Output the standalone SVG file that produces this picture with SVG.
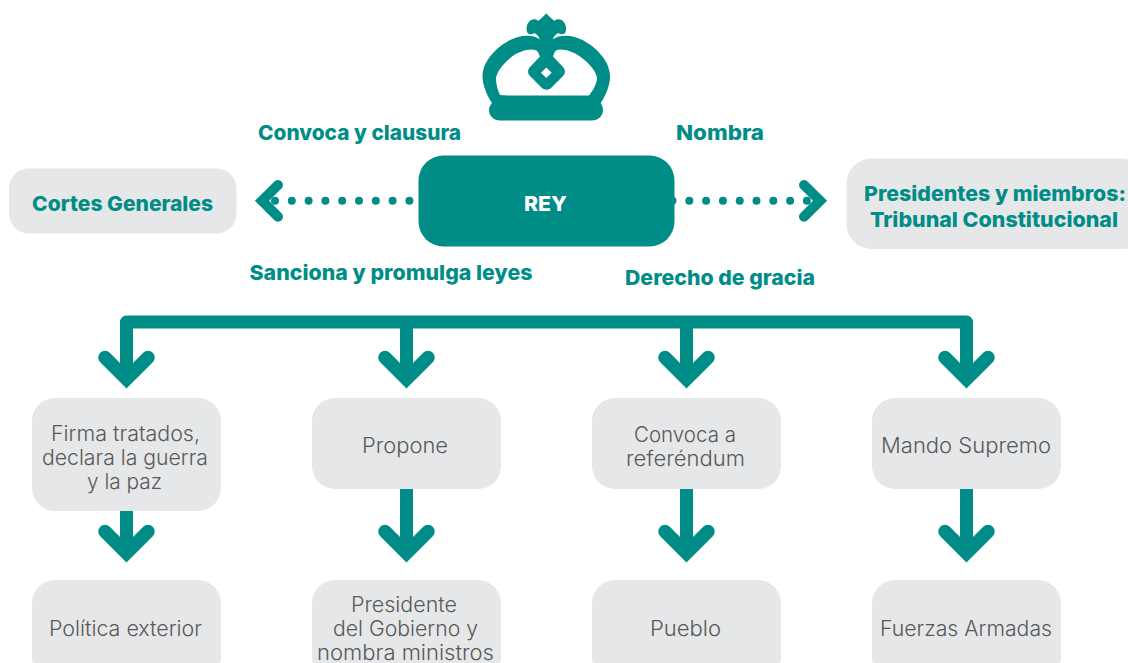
<svg xmlns="http://www.w3.org/2000/svg" width="1128" height="663" viewBox="0 0 1128 663">
<style>
.box{fill:#e6e7e8}
.t{font-family:"Inter","Open Sans","Liberation Sans",sans-serif;font-size:21px;font-weight:300;fill:#58595b;text-anchor:middle}
.b{font-family:"Inter","Open Sans","Liberation Sans",sans-serif;font-size:20.500px;font-weight:800;fill:#008d87;text-anchor:middle}
.line{fill:none;stroke:#008d87;stroke-width:13;stroke-linejoin:round}
.head{fill:none;stroke:#008d87;stroke-width:13.500;stroke-linecap:round;stroke-linejoin:miter}
.chev{fill:none;stroke:#008d87;stroke-width:10;stroke-linecap:round;stroke-linejoin:miter}
.dots{fill:none;stroke:#008d87;stroke-width:8;stroke-linecap:round;stroke-dasharray:0 16.800}
.teal{fill:#008d87}
</style>
<g id="crown"><path class="teal" fill-rule="evenodd" d="M492 103C487 96 482.500 85 482.500 76C483 60 497 47 510 40C518 36 531 33 540 39.500C538.500 36 536.500 34 534.500 33C532 34.500 529.500 35 527.500 33C525.500 29 526.500 23 531 20C534 18.500 536.500 19.500 538.500 20.700C541 18.500 544 16 546.300 13.300C548.600 16 551.600 18.500 554.100 20.700C556.100 19.500 558.600 18.500 561.600 20C566.100 23 567.100 29 565.100 33C563.100 35 560.600 34.500 558.100 33C556.100 34 554.100 36 552.600 39.500C561.600 33 574.600 36 582.600 40C595.600 47 609.600 60 610.100 76C610.100 85 605.600 96 600.600 103C602.100 105 603 107 603 110C603 116 598 120.500 592 120.500H500C494 120.500 489 116 489 110C489 107 490.500 105 492 103ZM500 95C504 95.500 509 95.500 514 95.500H589C594 89 597 83 597 78C596 71 589 63 580 56.500C572 51 562 48 556 50.500C554.500 52 553.500 54.500 553 56.500L563 67C565.500 70 565.500 73 563.500 75.500L552 87C549 90.500 544 90.500 541 87L529.500 75.500C527.500 73 527.500 70 530 67L540 56.500C539 54.500 538 52 536.500 50.500C530 48 520 51 512 56.500C504 63 497 71 496 78C496 84 497.500 90 500 95ZM546.300 67.400L541 72.700L546.300 78L551.600 72.700Z"/></g>
<g id="connectors">
<path class="dots" d="M275 200.700H410"/>
<path class="chev" d="M278 185L262 200.700L278 216.700"/>
<path class="dots" d="M672.500 200.700H807"/>
<path class="chev" d="M804 185L820 200.700L804 216.700"/>
<path class="line" d="M126.500 380V322H966.500V380M406.500 322V380M686.500 322V380"/>
<path class="head" d="M105 357.500L126.500 379L148 357.500M385 357.500L406.500 379L428 357.500M665 357.500L686.500 379L708 357.500M945 357.500L966.500 379L988 357.500"/>
<path class="line" d="M126.500 511V552M406.500 489V552M686.500 489V552M966.500 489V552"/>
<path class="head" d="M105 531.500L126.500 553L148 531.500M385 531.500L406.500 553L428 531.500M665 531.500L686.500 553L708 531.500M945 531.500L966.500 553L988 531.500"/>
</g>
<g id="rey"><rect x="418.500" y="155.500" width="256" height="91" rx="25" class="teal"/><text x="545.500" y="210.500" class="b" style="fill:#fff" textLength="43" lengthAdjust="spacingAndGlyphs">REY</text></g>
<g id="cortes"><rect x="9" y="168.500" width="227.500" height="65" rx="20" class="box"/><text x="122.500" y="210.500" class="b" textLength="181" lengthAdjust="spacingAndGlyphs">Cortes Generales</text></g>
<g id="tribunal"><rect x="846.500" y="158.500" width="300" height="90.500" rx="25" class="box"/><text x="995" y="200.500" class="b" textLength="262" lengthAdjust="spacingAndGlyphs">Presidentes y miembros:</text><text x="994" y="226.500" class="b" textLength="248" lengthAdjust="spacingAndGlyphs">Tribunal Constitucional</text></g>
<g id="lab1"><text x="359.500" y="140" class="b" textLength="203" lengthAdjust="spacingAndGlyphs">Convoca y clausura</text></g>
<g id="lab2"><text x="720" y="140" class="b" textLength="88" lengthAdjust="spacingAndGlyphs">Nombra</text></g>
<g id="lab3"><text x="391" y="280" class="b" textLength="283" lengthAdjust="spacingAndGlyphs">Sanciona y promulga leyes</text></g>
<g id="lab4"><text x="720" y="285" class="b" textLength="190" lengthAdjust="spacingAndGlyphs">Derecho de gracia</text></g>
<g id="n1"><rect x="32" y="398" width="189" height="113" rx="23" class="box"/><text x="125.500" y="441" class="t" textLength="149" lengthAdjust="spacingAndGlyphs">Firma tratados,</text><text x="125" y="465" class="t" textLength="166" lengthAdjust="spacingAndGlyphs">declara la guerra</text><text x="124.500" y="489" class="t" textLength="75" lengthAdjust="spacingAndGlyphs">y la paz</text></g>
<g id="n2"><rect x="312" y="398" width="189" height="91" rx="23" class="box"/><text x="405" y="453" class="t" textLength="86" lengthAdjust="spacingAndGlyphs">Propone</text></g>
<g id="n3"><rect x="592" y="398" width="189" height="91" rx="23" class="box"/><text x="685" y="442" class="t" textLength="102" lengthAdjust="spacingAndGlyphs">Convoca a</text><text x="685.500" y="466" class="t" textLength="119" lengthAdjust="spacingAndGlyphs">referéndum</text></g>
<g id="n4"><rect x="872" y="398" width="189" height="91" rx="23" class="box"/><text x="966" y="453" class="t" textLength="170" lengthAdjust="spacingAndGlyphs">Mando Supremo</text></g>
<g id="n5"><rect x="32" y="580" width="189" height="100" rx="23" class="box"/><text x="125.500" y="636" class="t" textLength="153" lengthAdjust="spacingAndGlyphs">Política exterior</text></g>
<g id="n6"><rect x="312" y="580" width="189" height="100" rx="23" class="box"/><text x="404" y="612" class="t" textLength="106" lengthAdjust="spacingAndGlyphs">Presidente</text><text x="405.500" y="636" class="t" textLength="145" lengthAdjust="spacingAndGlyphs">del Gobierno y</text><text x="405.500" y="660" class="t" textLength="177" lengthAdjust="spacingAndGlyphs">nombra ministros</text></g>
<g id="n7"><rect x="592" y="580" width="189" height="100" rx="23" class="box"/><text x="685.500" y="636" class="t" textLength="71" lengthAdjust="spacingAndGlyphs">Pueblo</text></g>
<g id="n8"><rect x="872" y="580" width="189" height="100" rx="23" class="box"/><text x="966" y="636" class="t" textLength="172" lengthAdjust="spacingAndGlyphs">Fuerzas Armadas</text></g>
</svg>
